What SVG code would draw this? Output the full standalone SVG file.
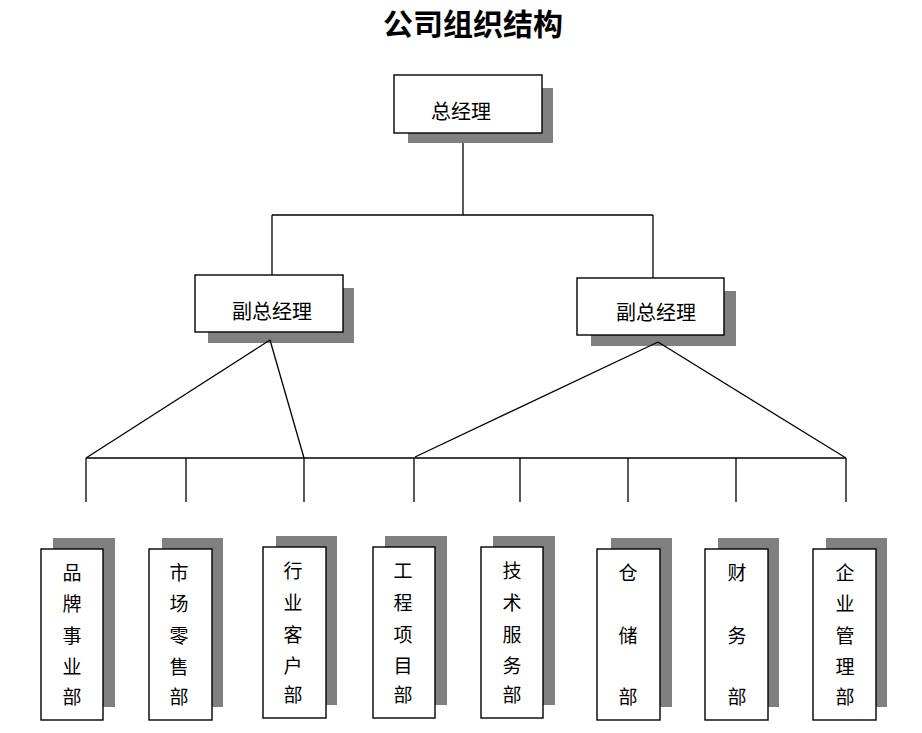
<svg xmlns="http://www.w3.org/2000/svg" width="922" height="733" viewBox="0 0 922 733">
<style>
.shadow{fill:#808080;}
.box{fill:#ffffff;stroke:#000000;stroke-width:1.4;}
.lbl{font-family:"Noto Sans CJK SC","Liberation Sans",sans-serif;font-size:20px;fill:#000000;text-anchor:middle;}
.vlbl{font-family:"Noto Sans CJK SC","Liberation Sans",sans-serif;font-size:19px;fill:#000000;text-anchor:middle;}
.title{font-family:"Noto Sans CJK SC","Liberation Serif",serif;font-size:30px;font-weight:bold;fill:#000000;text-anchor:middle;}
.conn{stroke:#000000;stroke-width:1.3;fill:none;}
</style>
<rect width="922" height="733" fill="#ffffff"/>
<text class="title" x="473" y="35">公司组织结构</text>

<g id="gm">
<rect class="shadow" x="408" y="88" width="145" height="55"/>
<rect class="box" x="394" y="75" width="148" height="58"/>
<text class="lbl" x="461" y="119">总经理</text>
</g>
<g id="vp1">
<rect class="shadow" x="208" y="288" width="146" height="55"/>
<rect class="box" x="195" y="275" width="148" height="57"/>
<text class="lbl" x="272" y="319">副总经理</text>
</g>
<g id="vp2">
<rect class="shadow" x="591" y="291" width="145" height="55"/>
<rect class="box" x="577" y="278" width="147" height="57"/>
<text class="lbl" x="656" y="320">副总经理</text>
</g>

<g id="d1">
<rect class="shadow" x="53" y="538" width="62" height="169"/>
<rect class="box" x="41" y="549" width="62" height="171"/>
<text class="vlbl"><tspan x="72" y="580">品</tspan><tspan x="72" y="611">牌</tspan><tspan x="72" y="643">事</tspan><tspan x="72" y="674">业</tspan><tspan x="72" y="704">部</tspan></text>
</g>
<g id="d2">
<rect class="shadow" x="162" y="538" width="61" height="169"/>
<rect class="box" x="149" y="549" width="63" height="171"/>
<text class="vlbl"><tspan x="179" y="580">市</tspan><tspan x="179" y="611">场</tspan><tspan x="179" y="643">零</tspan><tspan x="179" y="674">售</tspan><tspan x="179" y="704">部</tspan></text>
</g>
<g id="d3">
<rect class="shadow" x="276" y="536" width="61" height="169"/>
<rect class="box" x="263" y="547" width="63" height="171"/>
<text class="vlbl"><tspan x="293" y="578">行</tspan><tspan x="293" y="610">业</tspan><tspan x="293" y="642">客</tspan><tspan x="293" y="673">户</tspan><tspan x="293" y="702">部</tspan></text>
</g>
<g id="d4">
<rect class="shadow" x="385" y="536" width="62" height="169"/>
<rect class="box" x="373" y="547" width="62" height="171"/>
<text class="vlbl"><tspan x="403" y="578">工</tspan><tspan x="403" y="610">程</tspan><tspan x="403" y="642">项</tspan><tspan x="403" y="673">目</tspan><tspan x="403" y="702">部</tspan></text>
</g>
<g id="d5">
<rect class="shadow" x="493" y="536" width="62" height="169"/>
<rect class="box" x="481" y="547" width="62" height="171"/>
<text class="vlbl"><tspan x="512" y="578">技</tspan><tspan x="512" y="610">术</tspan><tspan x="512" y="642">服</tspan><tspan x="512" y="673">务</tspan><tspan x="512" y="702">部</tspan></text>
</g>
<g id="d6">
<rect class="shadow" x="611" y="538" width="61" height="169"/>
<rect class="box" x="597" y="549" width="63" height="171"/>
<text class="vlbl"><tspan x="628" y="580">仓</tspan><tspan x="628" y="643">储</tspan><tspan x="628" y="704">部</tspan></text>
</g>
<g id="d7">
<rect class="shadow" x="718" y="538" width="61" height="169"/>
<rect class="box" x="705" y="549" width="63" height="171"/>
<text class="vlbl"><tspan x="737" y="580">财</tspan><tspan x="737" y="643">务</tspan><tspan x="737" y="704">部</tspan></text>
</g>
<g id="d8">
<rect class="shadow" x="826" y="538" width="61" height="169"/>
<rect class="box" x="813" y="549" width="63" height="171"/>
<text class="vlbl"><tspan x="845" y="580">企</tspan><tspan x="845" y="611">业</tspan><tspan x="845" y="643">管</tspan><tspan x="845" y="674">理</tspan><tspan x="845" y="704">部</tspan></text>
</g>

<g id="connectors" class="conn">
<line x1="463" y1="143" x2="463" y2="215"/>
<line x1="272" y1="215" x2="653" y2="215"/>
<line x1="272" y1="215" x2="272" y2="275"/>
<line x1="653" y1="215" x2="653" y2="278"/>
<line x1="270" y1="340" x2="86" y2="458"/>
<line x1="270" y1="340" x2="304" y2="458"/>
<line x1="658" y1="342" x2="415" y2="457"/>
<line x1="658" y1="342" x2="846" y2="458"/>
<line x1="86" y1="458" x2="846" y2="458"/>
<line x1="86" y1="458" x2="86" y2="502"/>
<line x1="186" y1="458" x2="186" y2="502"/>
<line x1="304" y1="458" x2="304" y2="502"/>
<line x1="414" y1="458" x2="414" y2="502"/>
<line x1="520" y1="458" x2="520" y2="502"/>
<line x1="628" y1="458" x2="628" y2="502"/>
<line x1="736" y1="458" x2="736" y2="502"/>
<line x1="846" y1="458" x2="846" y2="502"/>
</g>
</svg>
